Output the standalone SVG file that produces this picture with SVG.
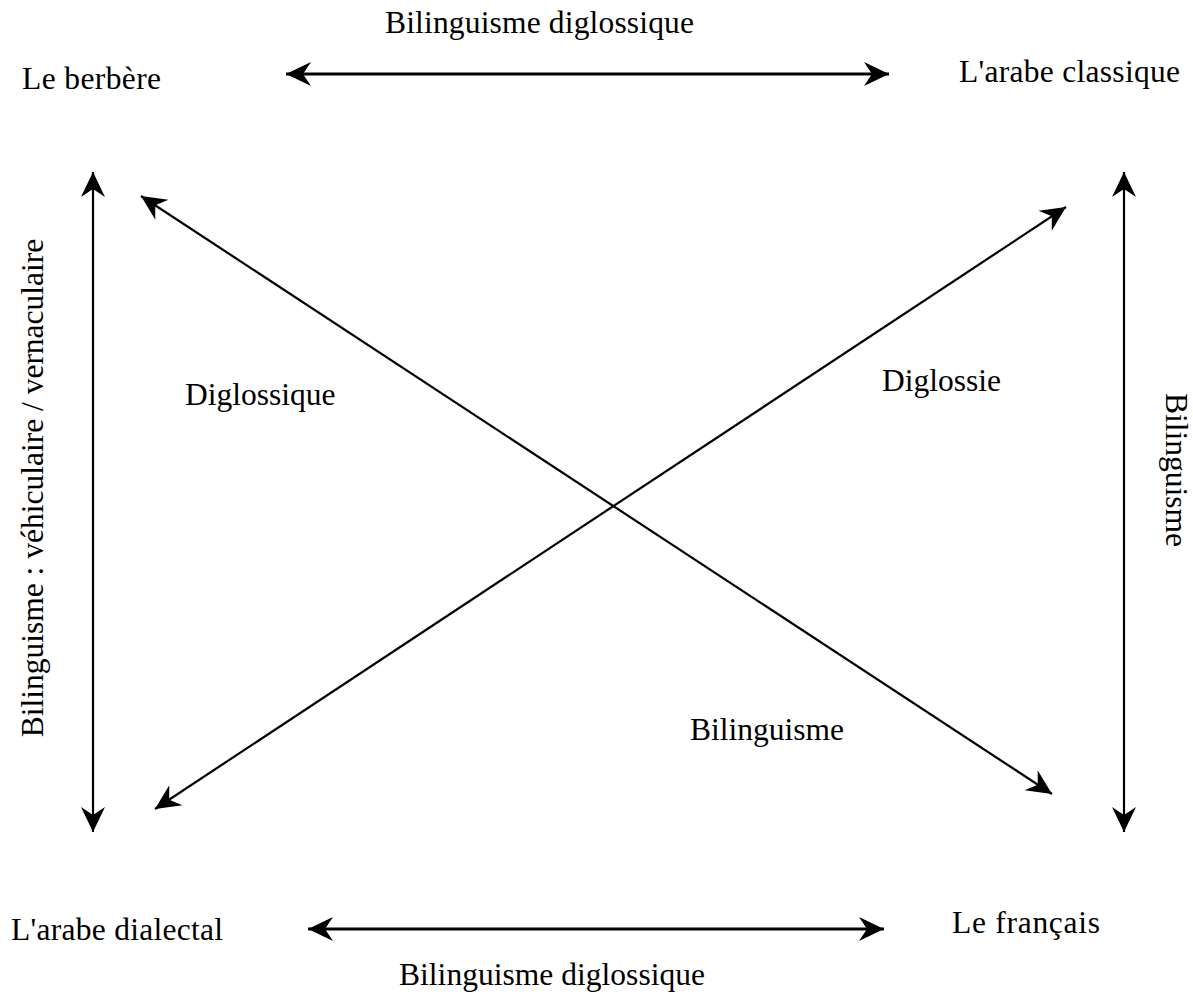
<svg xmlns="http://www.w3.org/2000/svg" width="1193" height="994" viewBox="0 0 1193 994">
<style>
text{font-family:"Liberation Serif","Times New Roman",serif;font-size:31.5px;fill:#000}
.c{stroke:#000;stroke-width:2.2;fill:none;marker-start:url(#ah);marker-end:url(#ah)}
.h{stroke-width:2.8}
</style>
<defs>
<marker id="ah" markerUnits="userSpaceOnUse" viewBox="-27 -14 29 28" markerWidth="29" markerHeight="28" refX="0" refY="0" orient="auto-start-reverse" overflow="visible">
<path d="M0,0 L-25,-12 L-17,0 L-25,12 Z" fill="#000"/>
</marker>
</defs>
<rect width="1193" height="994" fill="#fff"/>
<g id="connectors">
<line class="c h" x1="286" y1="74" x2="889" y2="74"/>
<line class="c h" x1="308" y1="929" x2="884" y2="929"/>
<line class="c" x1="93" y1="172" x2="93" y2="832"/>
<line class="c" x1="1124" y1="172" x2="1124" y2="832"/>
<line class="c" x1="141" y1="196" x2="1052" y2="794"/>
<line class="c" x1="1066" y1="207" x2="155" y2="809"/>
</g>
<g id="node-berbere"><text x="22" y="89" textLength="139">Le berbère</text></g>
<g id="node-arabe-classique"><text x="959" y="82" textLength="221">L'arabe classique</text></g>
<g id="node-arabe-dialectal"><text x="11" y="940" textLength="212">L'arabe dialectal</text></g>
<g id="node-francais"><text x="952" y="933" textLength="148">Le français</text></g>
<g id="labels">
<text x="385" y="33" textLength="309">Bilinguisme diglossique</text>
<text x="399" y="985" textLength="306">Bilinguisme diglossique</text>
<text transform="translate(43,488) rotate(-90)" text-anchor="middle">Bilinguisme : véhiculaire / vernaculaire</text>
<text transform="translate(1166,470) rotate(90)" text-anchor="middle">Bilinguisme</text>
<text x="185" y="405">Diglossique</text>
<text x="882" y="391">Diglossie</text>
<text x="690" y="740">Bilinguisme</text>
</g>
</svg>
